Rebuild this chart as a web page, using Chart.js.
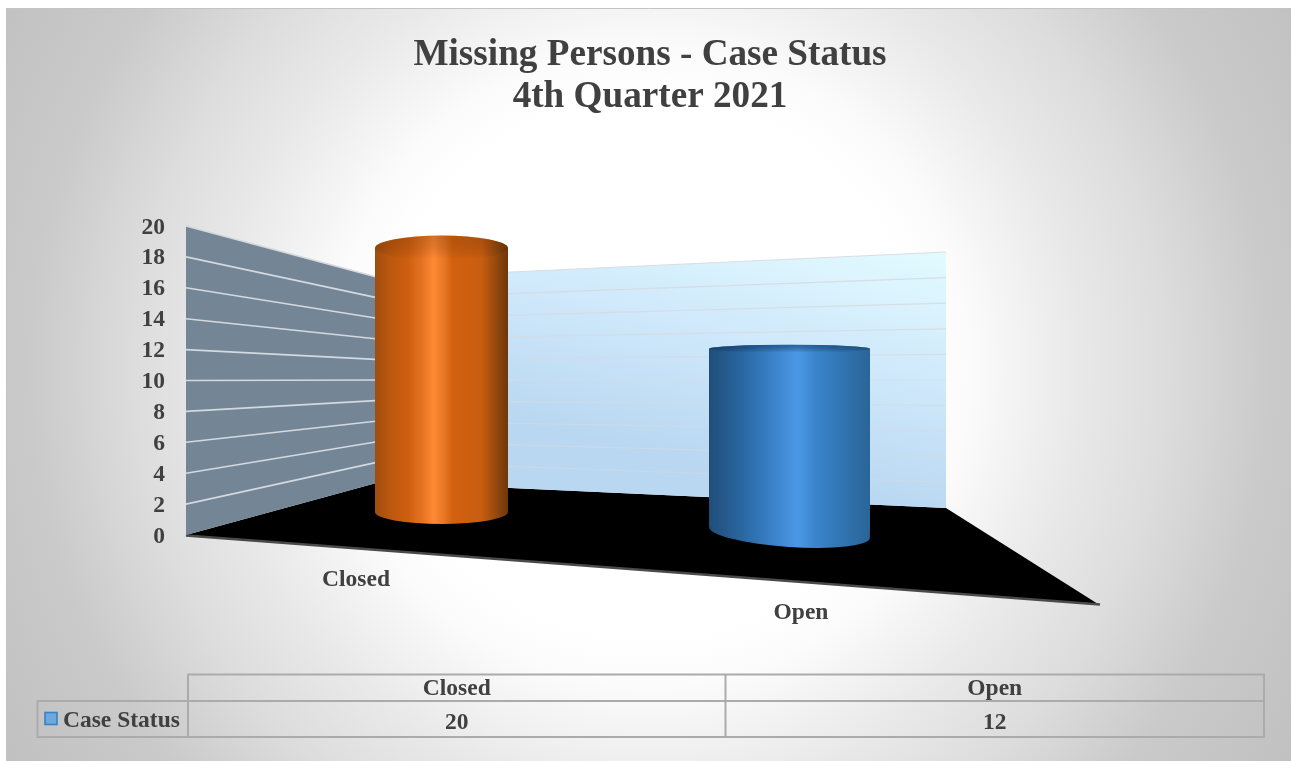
<!DOCTYPE html>
<html><head><meta charset="utf-8">
<style>html,body{margin:0;padding:0;background:#fff}canvas{display:block}</style>
<script src="https://cdn.jsdelivr.net/npm/chart.js@4"></script>
</head><body><canvas id="c" width="1291" height="761"></canvas>
<script>
const categories = ['Closed', 'Open'];
const caseStatus = [20, 12];
const seriesName = 'Case Status';
const titleLines = ['Missing Persons - Case Status', '4th Quarter 2021'];
const FONT = '"Liberation Serif","Times New Roman",serif';
const INK = '#404040';

// perspective of each cylinder: baseline pixel, pixels per unit, drawn width
const barBase = [512, 527];
const barUnit = [13.2, 14.85];
const barWidth = [133, 161];
const capTopRy = [12.5, 4];
const capBotRy = [12, 14.5];
const capBotTilt = [0, 0.068];
const capBotDy = [0, 5.5];
const capShade = ['rgba(110,50,0,.28)', 'rgba(15,60,110,.55)'];
const barStops = [
  [[0,'#a04c0e'],[.1,'#b9560f'],[.25,'#cf5f10'],[.35,'#e57222'],[.44,'#ff8a34'],[.52,'#e87624'],[.58,'#d2610f'],[.8,'#c95d10'],[.92,'#8f470e'],[1,'#6e3708']],
  [[0,'#1f4e79'],[.1,'#25598c'],[.25,'#2c6dab'],[.42,'#3d85cd'],[.55,'#4b98e6'],[.66,'#3b85cd'],[.85,'#2f72ae'],[1,'#2a6597']]
];

// wall geometry
const FRONT_X = 186, CORNER = {x:380, top:278, bot:482}, RIGHT = {x:946, top:252, bot:508};
const FLOOR_TIP = {x:1098, y:604};
const catLabelOffset = [[-85.5, 579.5], [11.5, 612.5]];

const plug3d = {
  id:'plug3d',
  beforeDraw(chart){
    const c = chart.ctx, W = chart.width, H = chart.height;
    c.save();
    c.fillStyle = '#fff'; c.fillRect(0,0,W,H);
    const R = 760;
    const g = c.createRadialGradient(650,368,0,650,368,R);
    [[0,'#ffffff'],[270,'#ffffff'],[320,'#fbfbfb'],[420,'#eaeaea'],[520,'#dcdcdc'],[620,'#cacaca'],[760,'#c0c0c0']]
      .forEach(s=>g.addColorStop(s[0]/R,s[1]));
    c.fillStyle = g; c.fillRect(6,8,W-6,H-8);
    c.strokeStyle = '#c4c4c4'; c.lineWidth = 1;
    c.beginPath(); c.moveTo(6.5,H); c.lineTo(6.5,8.5); c.lineTo(W,8.5); c.stroke();
    c.restore();
  },
  afterDatasetsUpdate(chart){
    const meta = chart.getDatasetMeta(0), y = chart.scales.y;
    const c = chart.ctx;
    meta.data.forEach((el,i)=>{
      const v = y.getValueForPixel(el.y);
      el.base = barBase[i];
      el.y = barBase[i] - v*barUnit[i];
      el.width = barWidth[i];
      el.height = el.base - el.y;
      const gr = c.createLinearGradient(el.x-el.width/2,0,el.x+el.width/2,0);
      barStops[i].forEach(s=>gr.addColorStop(s[0],s[1]));
      el.options = Object.assign({}, el.options, {backgroundColor:gr, borderWidth:0});
      el._grad = gr;
    });
  },
  beforeDatasetsDraw(chart){
    const c = chart.ctx, y = chart.scales.y;
    const frontBot = y.getPixelForValue(0), frontTop = y.getPixelForValue(20);
    c.save();
    // floor
    c.beginPath(); c.moveTo(FRONT_X,frontBot); c.lineTo(CORNER.x,CORNER.bot); c.lineTo(RIGHT.x,RIGHT.bot); c.lineTo(FLOOR_TIP.x,FLOOR_TIP.y); c.closePath();
    c.fillStyle = '#000'; c.fill();
    c.strokeStyle = '#4a4a4a'; c.lineWidth = 2.5;
    c.beginPath(); c.moveTo(FRONT_X,frontBot+.5); c.lineTo(FLOOR_TIP.x+2,FLOOR_TIP.y+.5); c.stroke();
    // left wall
    c.beginPath(); c.moveTo(FRONT_X,frontTop); c.lineTo(CORNER.x,CORNER.top); c.lineTo(CORNER.x,CORNER.bot); c.lineTo(FRONT_X,frontBot); c.closePath();
    c.fillStyle = '#748596'; c.fill();
    // back wall
    const bg = c.createLinearGradient(RIGHT.x,RIGHT.top,RIGHT.x-60,RIGHT.bot);
    bg.addColorStop(0,'#e2fbff'); bg.addColorStop(.5,'#cfe8fb'); bg.addColorStop(1,'#b9d7f1');
    c.beginPath(); c.moveTo(CORNER.x,CORNER.top); c.lineTo(RIGHT.x,RIGHT.top); c.lineTo(RIGHT.x,RIGHT.bot); c.lineTo(CORNER.x,CORNER.bot); c.closePath();
    c.fillStyle = bg; c.fill();
    // gridlines follow the axis ticks
    y.ticks.forEach(t=>{
      const f = t.value/20;
      const yc = CORNER.bot - f*(CORNER.bot-CORNER.top);
      const yr = RIGHT.bot - f*(RIGHT.bot-RIGHT.top);
      if (t.value>0){
        c.strokeStyle = '#d3d9de'; c.lineWidth = 1.6;
        c.beginPath(); c.moveTo(FRONT_X,y.getPixelForValue(t.value)); c.lineTo(CORNER.x,yc); c.stroke();
        c.strokeStyle = 'rgba(214,218,222,'+(0.45+0.45*f)+')'; c.lineWidth = 1.2;
        c.beginPath(); c.moveTo(CORNER.x,yc); c.lineTo(RIGHT.x,yr); c.stroke();
      }
    });
    c.restore();
    // lower rim of each cylinder, behind its body
    const meta = chart.getDatasetMeta(0);
    meta.data.forEach((el,i)=>{
      c.save();
      const cy = el.base + capBotDy[i];
      const t = capBotTilt[i], hw = el.width/2;
      c.beginPath();
      c.ellipse(el.x,cy,hw,capBotRy[i],t,0,Math.PI);
      c.lineTo(el.x-hw,el.base-2);
      c.lineTo(el.x+hw,el.base-2);
      c.closePath();
      c.fillStyle = el._grad; c.fill();
      c.restore();
    });
  },
  afterDatasetsDraw(chart){
    const c = chart.ctx;
    const meta = chart.getDatasetMeta(0);
    meta.data.forEach((el,i)=>{
      c.save();
      const ry = capTopRy[i];
      c.beginPath();
      c.ellipse(el.x,el.y,el.width/2,ry,0,0,Math.PI*2);
      c.fillStyle = el._grad; c.fill();
      const sh = c.createLinearGradient(0,el.y-ry,0,el.y+ry*0.9);
      sh.addColorStop(0,capShade[i]);
      sh.addColorStop(1,'rgba(0,0,0,0)');
      c.fillStyle = sh; c.fill();
      c.restore();
    });
  },
  afterDraw(chart){
    const c = chart.ctx, x = chart.scales.x;
    c.save();
    c.fillStyle = INK; c.textAlign='center'; c.textBaseline='middle';
    c.font = 'bold 23.5px '+FONT;
    categories.forEach((lab,i)=>{
      c.fillText(lab, x.getPixelForTick(i)+catLabelOffset[i][0], catLabelOffset[i][1]);
    });
    // data table
    const L=37.5, M=188, C=725.5, R=1264, T=674.5, A=701, B=737;
    c.strokeStyle='#ababab'; c.lineWidth=2;
    c.beginPath();
    c.moveTo(M,B); c.lineTo(M,T); c.lineTo(R,T); c.lineTo(R,B); c.lineTo(L,B); c.lineTo(L,A); c.lineTo(R,A);
    c.moveTo(C,T); c.lineTo(C,B);
    c.stroke();
    categories.forEach((lab,i)=>{
      const cx = i===0 ? (M+C)/2 : (C+R)/2;
      c.fillText(lab,cx,688.5);
      c.fillText(String(caseStatus[i]),cx,722.5);
    });
    c.fillStyle='#6fa8dc'; c.strokeStyle='#3a80c4'; c.lineWidth=1.6;
    c.fillRect(45,712.5,12,12); c.strokeRect(45,712.5,12,12);
    c.fillStyle=INK; c.textAlign='left';
    c.fillText(seriesName,63,720.5);
    c.restore();
  }
};

new Chart(document.getElementById('c'),{
  type:'bar',
  data:{labels:categories,datasets:[{label:seriesName,data:caseStatus,backgroundColor:'#4b98e6',borderWidth:0}]},
  plugins:[plug3d],
  options:{
    responsive:false,animation:false,
    layout:{padding:{left:9,right:0,top:0,bottom:226}},
    plugins:{
      legend:{display:false},tooltip:{enabled:false},
      title:{display:true,text:titleLines,color:INK,align:'center',
        font:{family:FONT,size:37.2,weight:'bold',lineHeight:1.13},
        padding:{top:34.5,bottom:107.4}}
    },
    scales:{
      x:{display:false,offset:true},
      y:{min:0,max:20,position:'left',
        grid:{display:false},border:{display:false},
        ticks:{stepSize:2,padding:94.5,labelOffset:1.5,color:INK,font:{family:FONT,size:23.5,weight:'bold'},autoSkip:false},
        afterFit(s){s.width=258.5;}
      },
      pad:{type:'linear',position:'right',display:true,grid:{display:false},border:{display:false},
        ticks:{display:false},afterFit(s){s.width=327.5;}}
    }
  }
});
</script></body></html>
